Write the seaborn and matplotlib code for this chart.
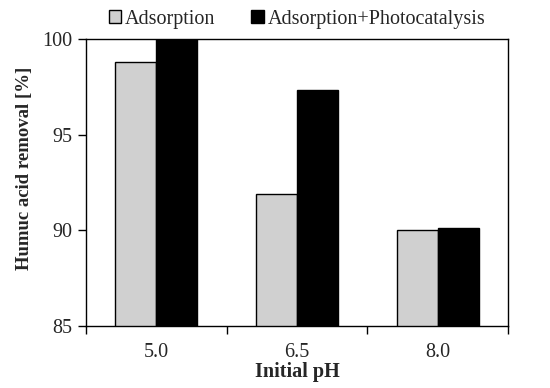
import seaborn as sns
import pandas as pd
import matplotlib.pyplot as plt

# values
ph_values = ["5.0", "6.5", "8.0"]
adsorption = [98.8, 91.9, 90.0]
adsorption_photo = [100.0, 97.35, 90.1]
series_names = ["Adsorption", "Adsorption+Photocatalysis"]

df = pd.DataFrame({
    "pH": ph_values * 2,
    "removal": adsorption + adsorption_photo,
    "series": [series_names[0]] * 3 + [series_names[1]] * 3,
})

sns.set_style("white")
plt.rcParams['font.family'] = ['Liberation Serif', 'DejaVu Serif']
fs = 14.5

fig = plt.figure(figsize=(5.5, 3.88), dpi=100)
ax = fig.add_axes([0.156, 0.160, 0.768, 0.7395])

sns.barplot(data=df, x="pH", y="removal", hue="series",
            palette=["#d0d0d0", "#000000"], width=0.58,
            edgecolor="black", linewidth=1.0, ax=ax)

ax.set_ylim(85, 100)
ax.set_yticks([85, 90, 95, 100])
ax.set_xlim(-0.5, 2.5)
ax.set_ylabel("Humuc acid removal [%]", fontsize=13.5, fontweight="bold")
ax.yaxis.set_label_coords(-0.125, 0.55)
ax.set_xlabel("Initial pH", fontsize=fs, fontweight="bold", labelpad=0)

# x ticks sit on the category boundaries, labels at the centres
ax.set_xticks([0, 1, 2])
ax.set_xticklabels(ph_values, fontsize=fs)
ax.tick_params(axis="x", which="major", length=0, pad=12, bottom=True)
ax.set_xticks([-0.5, 0.5, 1.5, 2.5], minor=True)
ax.tick_params(axis="x", which="minor", length=6, width=1, direction="out",
               color="black", bottom=True)
ax.tick_params(axis="y", length=6, width=1, direction="out", color="black",
               labelsize=fs, left=True, pad=4)

for s in ax.spines.values():
    s.set_color("black")
    s.set_linewidth(1.0)

leg = ax.legend(loc="lower center", bbox_to_anchor=(0.5, 1.0), ncol=2, frameon=False,
                fontsize=fs, handlelength=0.6, handleheight=0.6, handletextpad=0.2,
                columnspacing=1.8, borderaxespad=0.1)

fig.savefig("out.png", dpi=100)
